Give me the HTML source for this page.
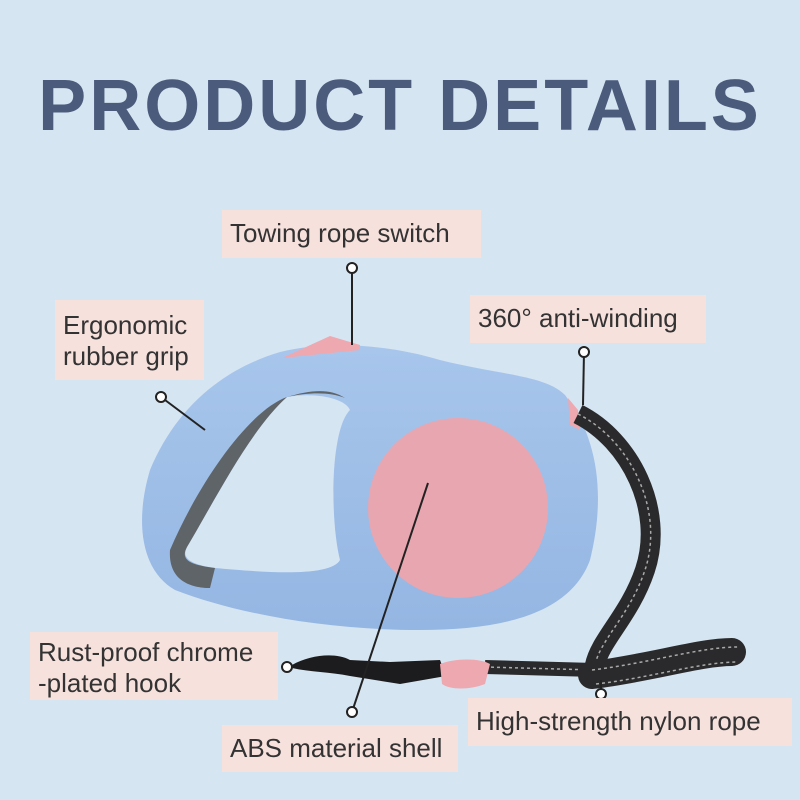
<!DOCTYPE html>
<html><head><style>
body{margin:0;width:800px;height:800px;background:#d6e5f2;overflow:hidden;font-family:"Liberation Sans",sans-serif}
.t{position:absolute;left:0;top:66px;width:800px;text-align:center;font-weight:bold;font-size:72px;color:#4b5b7c;letter-spacing:3px;line-height:80px}
.l{position:absolute;background:#f7e1dd;color:#333;font-size:26px;line-height:31px;padding:8px 8px;box-sizing:border-box;white-space:nowrap}
</style></head><body>
<svg width="800" height="800" style="position:absolute;left:0;top:0">
<defs><linearGradient id="b" x1="0" y1="0" x2="0" y2="1"><stop offset="0" stop-color="#a8c6ec"/><stop offset="1" stop-color="#94b6e2"/></linearGradient></defs>
<path d="M280 352 C330 340 390 345 440 360 C500 375 545 375 565 395 C600 440 605 500 590 560 C570 615 500 630 420 630 C330 630 240 615 175 590 C140 570 135 520 150 470 C175 410 220 370 280 352 Z" fill="url(#b)"/>
<path d="M287 397 C315 392 345 398 350 410 C330 430 330 520 340 560 C330 578 260 572 215 568 C195 565 180 560 187 547 C215 500 250 430 287 397 Z" fill="#d6e5f2"/>
<path d="M287 397 C250 410 200 480 170 550 C168 580 190 588 210 588 L215 568 C190 565 180 560 187 547 C215 500 250 430 287 397 C310 392 330 392 345 398 C330 388 310 390 287 397 Z" fill="#5f6468"/>
<circle cx="458" cy="508" r="90" fill="#e8a6b0"/>
<path d="M282 358 L330 336 L360 345 L360 350 Z" fill="#eea8b0"/>
<path d="M568 398 L578 410 L580 430 L570 425 Z" fill="#eea8b0"/>
<path d="M485 667 L595 670" stroke="#2a2a2c" stroke-width="14" fill="none"/>
<path d="M485 667 L595 670" stroke="#aaa" stroke-width="1.5" stroke-dasharray="3 3" fill="none"/>
<path d="M578 414 C630 440 665 510 645 570 C630 615 600 640 595 665" stroke="#2a2a2c" stroke-width="20" fill="none"/>
<path d="M578 414 C630 440 665 510 645 570 C630 615 600 640 595 665" stroke="#aaa" stroke-width="1.5" stroke-dasharray="3 3" fill="none"/>
<path d="M592 675 C650 668 700 652 732 652" stroke="#2a2a2c" stroke-width="28" stroke-linecap="round" fill="none"/>
<path d="M592 670 C650 663 700 647 738 647 M596 684 C650 678 700 662 738 662" stroke="#aaa" stroke-width="1.5" stroke-dasharray="3 3" fill="none"/>
<path d="M292 665 C310 655 335 652 350 660 L390 662 L440 660 L446 676 L400 684 L350 676 C330 672 310 672 292 668 Z" fill="#1c1c1e"/>
<path d="M440 664 C455 658 480 658 490 664 L485 684 C470 690 450 690 442 684 Z" fill="#eea8b0"/>
<g stroke="#222" stroke-width="2" fill="#fff">
<line x1="352" y1="268" x2="352" y2="345"/><circle cx="352" cy="268" r="5"/>
<line x1="161" y1="397" x2="205" y2="430"/><circle cx="161" cy="397" r="5"/>
<line x1="584" y1="352" x2="583" y2="405"/><circle cx="584" cy="352" r="5"/>
<line x1="428" y1="483" x2="352" y2="712"/><circle cx="352" cy="712" r="5"/>
<circle cx="287" cy="667" r="5"/>
<line x1="601" y1="680" x2="601" y2="694"/><circle cx="601" cy="694" r="5"/>
</g>
</svg>
<div class="t">PRODUCT DETAILS</div>
<div class="l" style="left:222px;top:210px;width:259px;height:48px">Towing rope switch</div>
<div class="l" style="left:55px;top:300px;width:149px;height:80px;padding-top:10px">Ergonomic<br>rubber grip</div>
<div class="l" style="left:470px;top:295px;width:236px;height:48px">360° anti-winding</div>
<div class="l" style="left:30px;top:632px;width:248px;height:68px;padding-top:5px">Rust-proof chrome<br>-plated hook</div>
<div class="l" style="left:222px;top:725px;width:236px;height:47px">ABS material shell</div>
<div class="l" style="left:468px;top:698px;width:324px;height:48px">High-strength nylon rope</div>
</body></html>
